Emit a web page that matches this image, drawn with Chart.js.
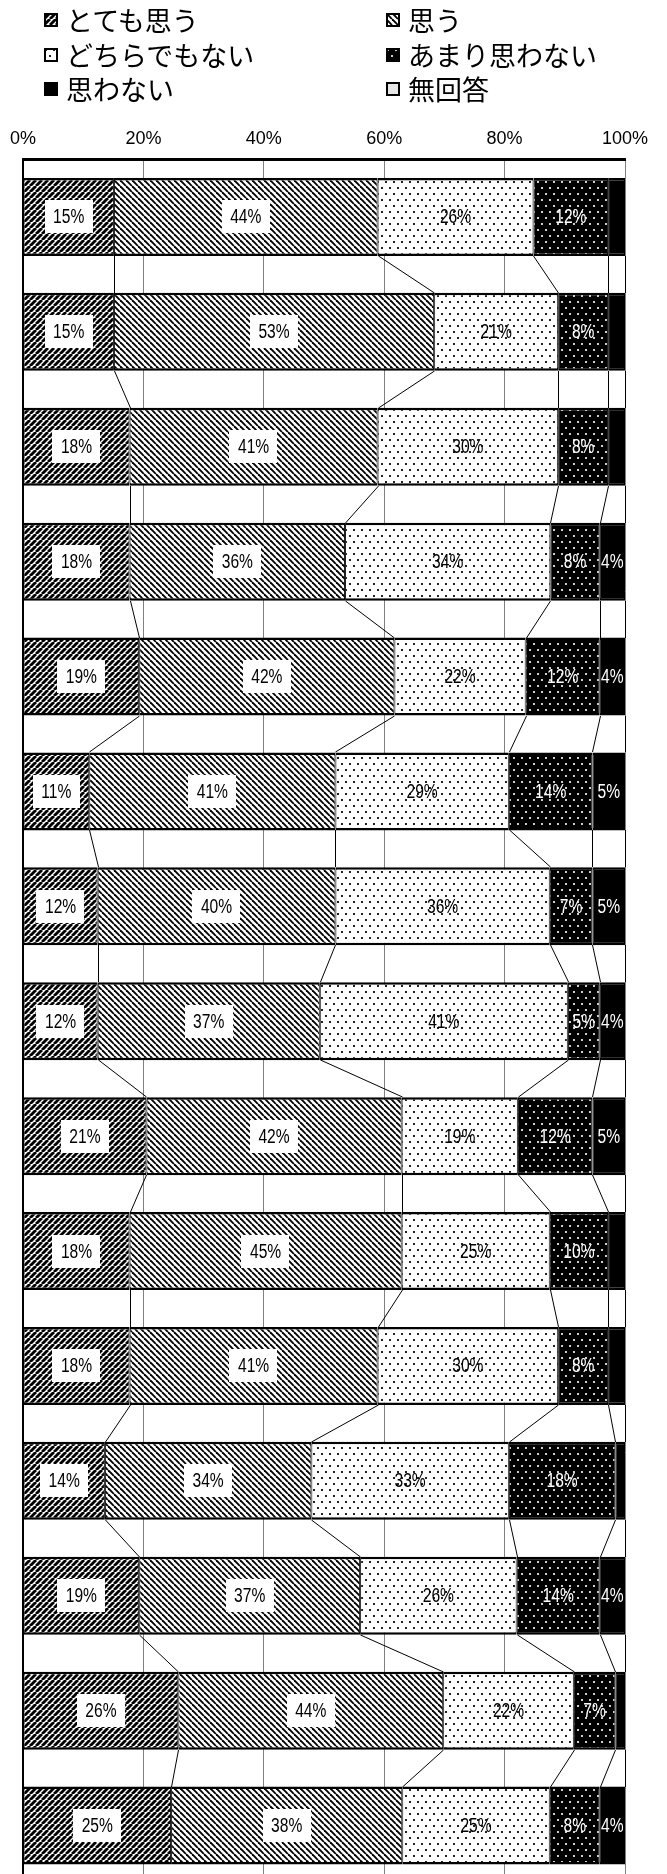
<!DOCTYPE html>
<html>
<head>
<meta charset="utf-8">
<script src="https://cdn.jsdelivr.net/npm/chart.js@4/dist/chart.umd.min.js"></script>
<style>
  html, body { margin: 0; padding: 0; background: #fff; overflow: hidden; height: 1874px; }
  #wrap { position: relative; width: 667px; height: 1874px; overflow: hidden; }
  #c { position: absolute; left: 0; top: 0; }
  .lg { position: absolute; height: 36px; line-height: 36px; font-family: "Noto Sans CJK JP", sans-serif; font-size: 27px; color: #000; white-space: nowrap; }
  .lg canvas { position: absolute; top: 11px; left: 0; }
  .lg span { position: absolute; left: 22px; top: 0; }
</style>
</head>
<body>
<div id="wrap">
  <canvas id="c" width="667" height="1883"></canvas>
  <div id="legend"></div>
</div>
<script>
// ---- data ----
const categories = ['1','2','3','4','5','6','7','8','9','10','11','12','13','14','15'];
const seriesNames = ['とても思う','思う','どちらでもない','あまり思わない','思わない','無回答'];
const totemoOmou   = [15.1,15.1,17.7,17.7,19.3,11.0,12.4,12.4,20.5,17.7,17.7,13.6,19.3,25.8,24.6];
const omou         = [43.8,53.2,41.2,35.8,42.4,40.9,39.5,36.9,42.4,45.2,41.2,34.3,36.7,44.0,38.4];
const dochiraDemo  = [25.9,20.6,30.0,34.1,21.8,28.8,35.6,41.2,19.3,24.6,30.0,32.8,26.0,21.7,24.5];
const amariOmowanai= [12.4, 8.3, 8.3, 8.2,12.3,13.9, 7.1, 5.3,12.4, 9.7, 8.3,17.7,13.8, 6.9, 8.3];
const omowanai     = [ 2.8, 2.8, 2.8, 4.2, 4.2, 5.4, 5.4, 4.2, 5.4, 2.8, 2.8, 1.6, 4.2, 1.6, 4.2];
const mukaitou     = [0,0,0,0,0,0,0,0,0,0,0,0,0,0,0];
const xTicks = [0,20,40,60,80,100];
const seriesValues = [totemoOmou, omou, dochiraDemo, amariOmowanai, omowanai, mukaitou];

// ---- patterns ----
function tile(w, h, draw) {
  const c = document.createElement('canvas');
  c.width = w; c.height = h;
  const g = c.getContext('2d');
  draw(g, w, h);
  return c;
}
const tiles = [
  tile(6, 6, (g, w) => { // upward diagonal, heavy
    g.fillStyle = '#fff'; g.fillRect(0, 0, w, w);
    g.strokeStyle = '#000'; g.lineWidth = 2.9;
    for (let k = -w; k <= w; k += w) { g.beginPath(); g.moveTo(k, w); g.lineTo(k + w, 0); g.stroke(); }
  }),
  tile(6, 6, (g, w) => { // downward diagonal
    g.fillStyle = '#fff'; g.fillRect(0, 0, w, w);
    g.strokeStyle = '#000'; g.lineWidth = 1.9;
    for (let k = -w; k <= w; k += w) { g.beginPath(); g.moveTo(k, 0); g.lineTo(k + w, w); g.stroke(); }
  }),
  tile(8, 12, (g, w, h) => { // sparse dots
    g.fillStyle = '#fff'; g.fillRect(0, 0, w, h);
    g.fillStyle = '#222'; g.fillRect(1, 1, 2, 2); g.fillRect(5, 7, 2, 2);
  }),
  tile(8, 12, (g, w, h) => { // black with light dots
    g.fillStyle = '#000'; g.fillRect(0, 0, w, h);
    g.fillStyle = '#cfcfcf'; g.fillRect(1, 1, 2, 2); g.fillRect(5, 7, 2, 2);
  }),
  tile(4, 4, (g, w, h) => { g.fillStyle = '#000'; g.fillRect(0, 0, w, h); }),
  tile(4, 4, (g, w, h) => { g.fillStyle = '#e6e6e6'; g.fillRect(0, 0, w, h); })
];
const ctx = document.getElementById('c').getContext('2d');
const fills = tiles.map(t => ctx.createPattern(t, 'repeat'));

// ---- legend (HTML, swatches use the same patterns) ----
const legend = document.getElementById('legend');
const legPos = [[44,2],[386,2],[44,36.5],[386,36.5],[44,71],[386,71]];
seriesNames.forEach((name, i) => {
  const d = document.createElement('div');
  d.className = 'lg';
  d.style.left = legPos[i][0] + 'px';
  d.style.top = legPos[i][1] + 'px';
  const sw = document.createElement('canvas');
  sw.width = 14; sw.height = 14;
  const g = sw.getContext('2d');
  g.fillStyle = g.createPattern(tiles[i], 'repeat');
  g.fillRect(0, 0, 14, 14);
  g.strokeStyle = '#000'; g.lineWidth = 2; g.strokeRect(1, 1, 12, 12);
  const s = document.createElement('span');
  s.textContent = name;
  d.appendChild(sw); d.appendChild(s);
  legend.appendChild(d);
});

const LABEL_FONT = "'Liberation Sans', Arial, sans-serif";

// ---- plugins ----
const seriesLines = {
  id: 'seriesLines',
  afterDatasetsDraw(chart) {
    const g = chart.ctx;
    const xs = chart.scales.x;
    const metas = seriesValues.map((_, i) => chart.getDatasetMeta(i));
    g.save();
    g.strokeStyle = '#000'; g.lineWidth = 1;
    for (let s = 0; s < 5; s++) {
      for (let i = 0; i < categories.length - 1; i++) {
        let c1 = 0, c2 = 0;
        for (let k = 0; k <= s; k++) { c1 += seriesValues[k][i]; c2 += seriesValues[k][i + 1]; }
        const e1 = metas[s].data[i], e2 = metas[s].data[i + 1];
        g.beginPath();
        g.moveTo(Math.round(xs.getPixelForValue(c1)) + 0.5, Math.round(e1.y + e1.height / 2));
        g.lineTo(Math.round(xs.getPixelForValue(c2)) + 0.5, Math.round(e2.y - e2.height / 2));
        g.stroke();
      }
    }
    g.restore();
  }
};
const valueLabels = {
  id: 'valueLabels',
  afterDatasetsDraw(chart) {
    const g = chart.ctx;
    const SX = 0.78;
    for (let s = 0; s < 5; s++) {
      const meta = chart.getDatasetMeta(s);
      meta.data.forEach((el, i) => {
        const v = Math.round(seriesValues[s][i]);
        if (v < 4) return;
        const txt = v + '%';
        const cx = (el.x + el.base) / 2, cy = el.y;
        g.save();
        g.font = '20px ' + LABEL_FONT;
        g.textAlign = 'center';
        g.textBaseline = 'middle';
        if (s < 2) {
          const w = g.measureText(txt).width * SX + 17;
          g.fillStyle = '#fff';
          g.fillRect(Math.round(cx - w / 2), Math.round(cy - 16.5), Math.round(w), 33);
          g.fillStyle = '#000';
        } else if (s === 2) {
          g.fillStyle = '#000';
        } else {
          g.fillStyle = '#fff';
        }
        g.translate(cx, cy + 1);
        g.scale(SX, 1);
        g.fillText(txt, 0, 0);
        g.restore();
      });
    }
  }
};

// ---- chart ----
new Chart(ctx, {
  type: 'bar',
  data: {
    labels: categories,
    datasets: seriesNames.map((name, i) => ({
      label: name,
      data: seriesValues[i],
      backgroundColor: fills[i],
      borderColor: '#000',
      borderWidth: { top: 2.5, bottom: 2.5, left: 1, right: 1 },
      borderSkipped: false,
      categoryPercentage: 1,
      barPercentage: 0.679
    }))
  },
  options: {
    indexAxis: 'y',
    responsive: false,
    animation: false,
    layout: { padding: { left: 23, right: 42, top: 0, bottom: 0 } },
    plugins: { legend: { display: false }, tooltip: { enabled: false } },
    scales: {
      x: {
        position: 'top',
        stacked: true,
        min: 0, max: 100,
        afterBuildTicks: (sc) => { sc.ticks = xTicks.map(v => ({ value: v })); },
        afterFit: (sc) => { sc.height = 159.5; },
        ticks: {
          padding: 10,
          color: '#000',
          font: { family: LABEL_FONT, size: 18 },
          callback: (v) => v + '%',
          maxRotation: 0
        },
        grid: { color: '#808080', lineWidth: 1, drawTicks: false },
        border: { display: true, color: '#000', width: 3 }
      },
      y: {
        stacked: true,
        afterFit: (sc) => { sc.width = 0; },
        ticks: { display: false },
        grid: { display: false, drawTicks: false },
        border: { display: true, color: '#000', width: 2 }
      }
    }
  },
  plugins: [seriesLines, valueLabels]
});
</script>
</body>
</html>
